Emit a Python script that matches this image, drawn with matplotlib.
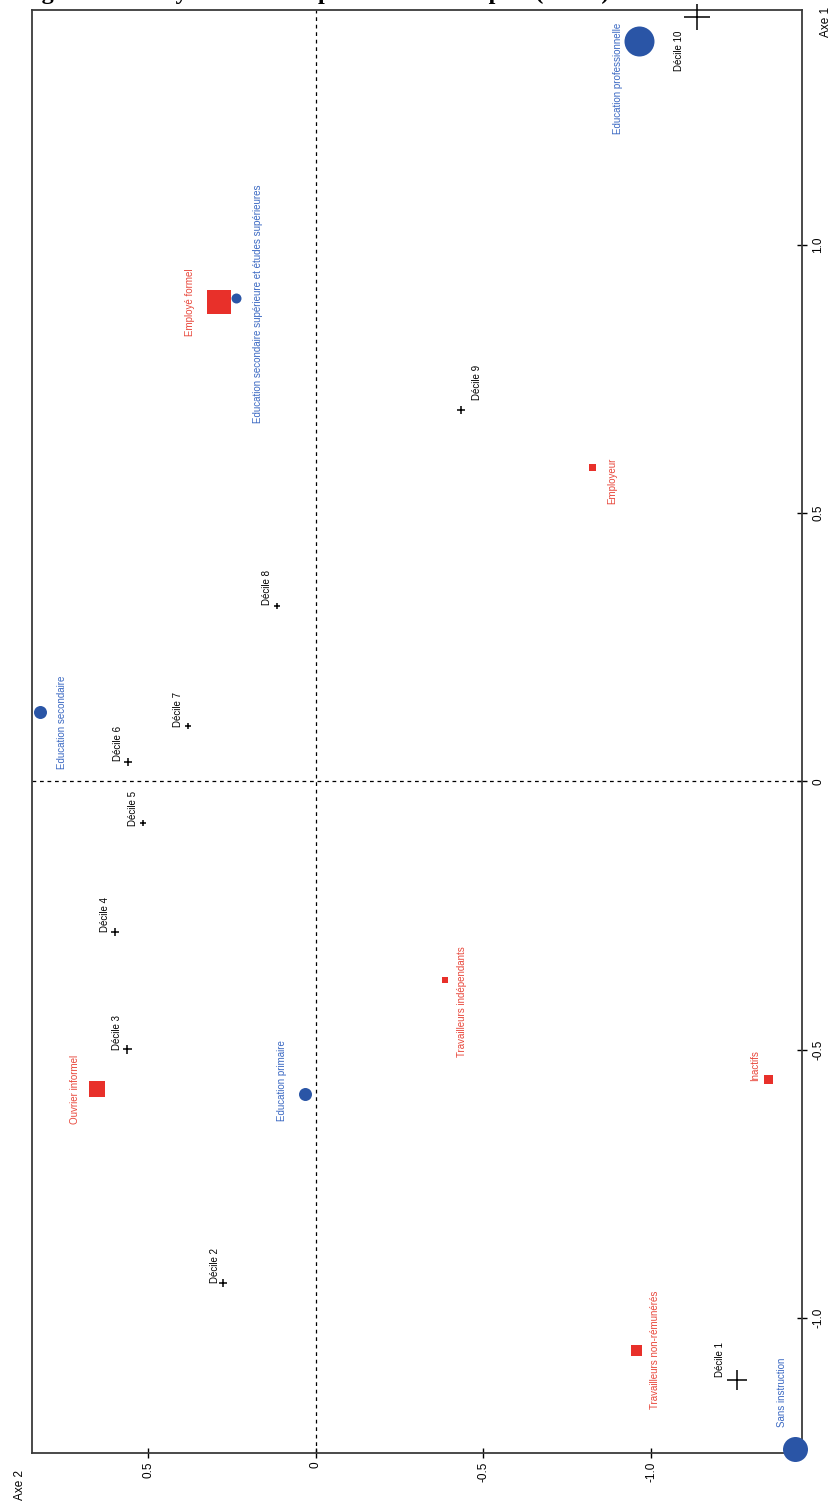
import matplotlib
matplotlib.use('Agg')
import matplotlib.pyplot as plt

plt.rcParams['font.family'] = ['Liberation Sans', 'DejaVu Sans']
plt.rcParams['axes.unicode_minus'] = False

# Modalites - niveau d'education (cercles bleus)
educ_labels = ['Education professionnelle',
               'Education secondaire supérieure et études supérieures',
               'Education secondaire', 'Education primaire', 'Sans instruction']
educ_axe1 = [1.380, 0.901, 0.129, -0.583, -1.245]
educ_axe2 = [-0.964, 0.238, 0.823, 0.032, -1.429]
educ_size = [30, 10, 13, 13, 25]

# Modalites - statut d'emploi (carres rouges)
emploi_labels = ['Employé formel', 'Employeur', 'Ouvrier informel',
                 'Travailleurs indépendants', 'Inactifs', 'Travailleurs non-rémunérés']
emploi_axe1 = [0.894, 0.586, -0.574, -0.370, -0.555, -1.060]
emploi_axe2 = [0.288, -0.824, 0.652, -0.385, -1.349, -0.955]
emploi_size = [24, 7, 16, 6, 9, 11]

# Deciles de revenu (croix noires)
decile_labels = ['Décile 10', 'Décile 9', 'Décile 8', 'Décile 7', 'Décile 6',
                 'Décile 5', 'Décile 4', 'Décile 3', 'Décile 2', 'Décile 1']
decile_axe1 = [1.425, 0.692, 0.327, 0.103, 0.036, -0.078, -0.280, -0.499, -0.936, -1.115]
decile_axe2 = [-1.137, -0.433, 0.115, 0.381, 0.560, 0.515, 0.598, 0.563, 0.276, -1.256]
decile_size = [27, 8, 6, 6, 8, 6, 8, 9, 8, 20]

# decalage des etiquettes (pixels, dx vers la droite, dy vers le bas)
educ_offsets = [(-21, 37), (22, 6), (22, 10), (-23, -14), (-13, -57)]
emploi_offsets = [(-29, 0), (20, 14), (-22, 0), (17, 22), (-13, -14), (19, 0)]
decile_offsets = [(-18, 34), (16, -28), (-10, -18), (-10, -17), (-10, -19),
                  (-10, -15), (-10, -17), (-10, -17), (-8, -18), (-17, -20)]

blue = '#2a55a6'
blue_txt = '#3a68c2'
red = '#e8302a'
red_txt = '#e8473b'

W, H = 837, 1504
fig = plt.figure(figsize=(W / 100, H / 100), dpi=100)
ax = fig.add_axes([32 / W, 51 / H, 770 / W, 1443 / H])
ax.set_xlim(0.846, -1.450)
ax.set_ylim(-1.252, 1.438)

ax.axhline(0, color='black', lw=0.9, ls=(0, (3, 3)), zorder=1)
ax.axvline(0, color='black', lw=0.9, ls=(0, (3, 3)), zorder=1)


def draw_group(labels, a1, a2, sizes, offsets, marker, color, txtcolor):
    for lab, y, x, s, (dx, dy) in zip(labels, a1, a2, sizes, offsets):
        if marker == '+':
            ax.plot(x, y, marker='+', ms=s * 0.72, color=color, mew=1.1,
                    clip_on=False, zorder=3)
        else:
            ax.plot(x, y, marker=marker, ms=s * 0.72, color=color, mew=0,
                    clip_on=False, zorder=3)
        ax.annotate(lab, (x, y), xytext=(dx * 0.72, -dy * 0.72),
                    textcoords='offset points', rotation=90, ha='center',
                    va='center', fontsize=7, color=txtcolor, zorder=4,
                    annotation_clip=False)


draw_group(educ_labels, educ_axe1, educ_axe2, educ_size, educ_offsets, 'o', blue, blue_txt)
draw_group(emploi_labels, emploi_axe1, emploi_axe2, emploi_size, emploi_offsets, 's', red, red_txt)
draw_group(decile_labels, decile_axe1, decile_axe2, decile_size, decile_offsets, '+', 'black', 'black')

ax.set_xticks([0.5, 0, -0.5, -1.0])
ax.set_xticklabels(['0.5', '0', '-0.5', '-1.0'])
ax.set_yticks([1.0, 0.5, 0, -0.5, -1.0])
ax.set_yticklabels(['1.0', '0.5', '0', '-0.5', '-1.0'])
ax.tick_params(axis='x', direction='inout', length=7, width=1, pad=2.5,
               labelsize=8.5, labelrotation=90)
ax.tick_params(axis='y', left=False, right=True, labelleft=False, labelright=True,
               direction='inout', length=7, width=1, pad=4, labelsize=8.5,
               labelrotation=90)
for lab in ax.get_yticklabels():
    lab.set_va('center')
for sp in ax.spines.values():
    sp.set_color('#3a3a3a')
    sp.set_linewidth(1.3)

fig.text(826 / W, 1 - 22 / H, 'Axe 1', rotation=90, ha='center', va='center', fontsize=8.5)
fig.text(20 / W, 1 - 1485 / H, 'Axe 2', rotation=90, ha='center', va='center', fontsize=8.5)

# titre coupe en haut de l'image (seuls les jambages restent visibles)
fig.text(20 / W, 1 + 1 / H, 'Figure 4 : Analyse des correspondances multiples (ACM)',
         family=['Liberation Serif', 'DejaVu Serif'], fontweight='bold',
         fontsize=17.5, ha='left', va='baseline')

fig.savefig('out.png', dpi=100)
